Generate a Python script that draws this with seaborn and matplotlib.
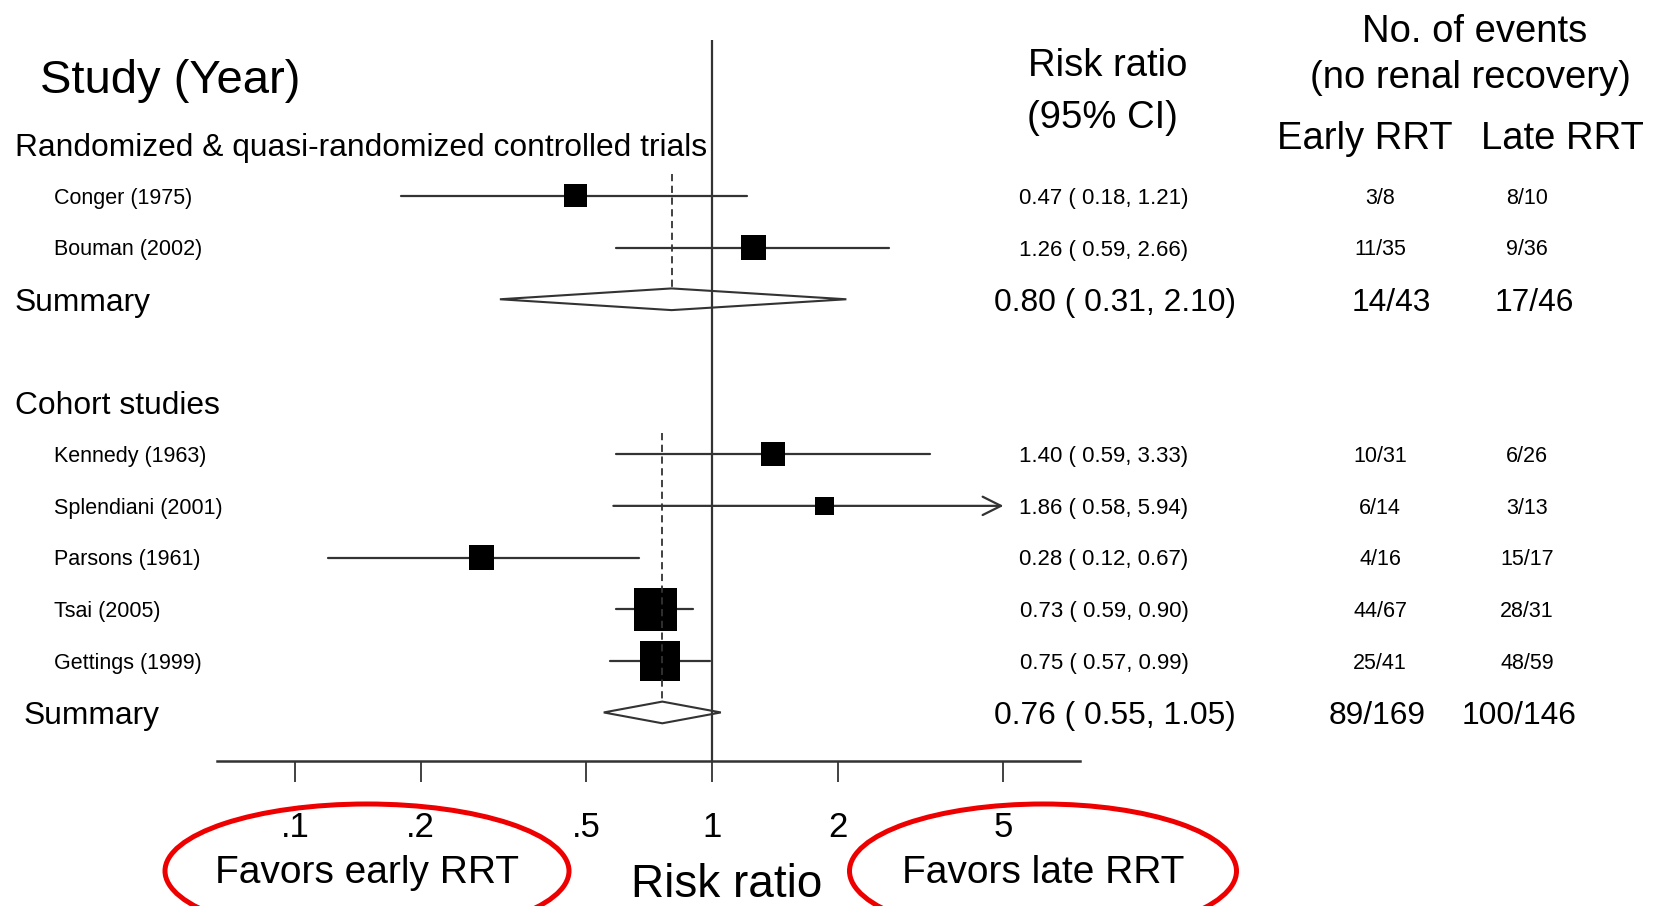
import numpy as np
import pandas as pd
import seaborn as sns
from matplotlib import pyplot as plt
from matplotlib import transforms
from matplotlib.patches import Ellipse

# individual studies, top to bottom
studies = ["Conger (1975)", "Bouman (2002)", "Kennedy (1963)", "Splendiani (2001)",
           "Parsons (1961)", "Tsai (2005)", "Gettings (1999)"]
study_row = [0, 1, 5, 6, 7, 8, 9]
rr = [0.47, 1.26, 1.40, 1.86, 0.28, 0.73, 0.75]
ci_lo = [0.18, 0.59, 0.59, 0.58, 0.12, 0.59, 0.57]
ci_hi = [1.21, 2.66, 3.33, 5.94, 0.67, 0.90, 0.99]
box_weight = [5.3, 6.2, 5.5, 3.5, 5.8, 18.5, 16.0]  # box area
early_events = ["3/8", "11/35", "10/31", "6/14", "4/16", "44/67", "25/41"]
late_events = ["8/10", "9/36", "6/26", "3/13", "15/17", "28/31", "48/59"]

# subgroups
groups = ["Randomized & quasi-randomized controlled trials", "Cohort studies"]
group_row = [-1, 4]
summary_row = [2, 10]
summary_rr = [0.80, 0.76]
summary_lo = [0.31, 0.55]
summary_hi = [2.10, 1.05]
summary_early = ["14/43", "89/169"]
summary_late = ["17/46", "100/146"]

tick_values = [0.1, 0.2, 0.5, 1, 2, 5]
tick_labels = [".1", ".2", ".5", "1", "2", "5"]
ci_clip = 5  # CIs drawn past this get an arrow

W, H = 1657, 906
LINE = "#333333"

sns.set_style("white")
plt.rcParams["font.family"] = ["Liberation Sans", "DejaVu Sans"]
plt.rcParams["text.color"] = "black"
plt.rcParams["xtick.labelcolor"] = "black"

fig = plt.figure(figsize=(W / 100, H / 100), dpi=100)
ax = fig.add_axes([217 / W, 1 - 761 / H, (1080 - 217) / W, (761 - 40) / H])
ax.set_xscale("log")

df = pd.DataFrame({"study": studies, "row": study_row, "rr": rr,
                   "lo": ci_lo, "hi": ci_hi, "w": box_weight})

# confidence intervals
for _, s in df.iterrows():
    if s.hi > ci_clip:
        ax.annotate("", xy=(ci_clip, s.row), xytext=(s.lo, s.row),
                    arrowprops=dict(arrowstyle="->,head_length=0.6,head_width=0.3",
                                    color=LINE, lw=1.6, shrinkA=0, shrinkB=0,
                                    mutation_scale=22), zorder=2)
    else:
        ax.plot([s.lo, s.hi], [s.row, s.row], color=LINE, lw=1.6, zorder=2)

# weight boxes
area_per_w = 51.84
sns.scatterplot(data=df, x="rr", y="row", size="w",
                sizes=(area_per_w * min(box_weight), area_per_w * max(box_weight)),
                size_norm=(min(box_weight), max(box_weight)),
                marker="s", color="black", linewidth=0, legend=False, ax=ax, zorder=4)

# summary diamonds + dashed lines
h = 0.21
for i, r in enumerate(summary_row):
    xs = [summary_lo[i], summary_rr[i], summary_hi[i], summary_rr[i]]
    ys = [r, r - h, r, r + h]
    ax.fill(xs, ys, facecolor="white", edgecolor=LINE, lw=1.5, zorder=2)
    first = min(x for x in study_row if x > group_row[i])
    ax.plot([summary_rr[i], summary_rr[i]], [first - 0.42, r - h],
            color=LINE, lw=1.3, ls=(0, (4, 2.5)), zorder=5)

ax.axvline(1, color=LINE, lw=1.6, zorder=3)

ax.set_xlim(0.065, 7.63)
ax.set_ylim(10.94, -3.02)
ax.set_xticks(tick_values)
ax.set_xticklabels(tick_labels)
ax.minorticks_off()
ax.tick_params(axis="x", direction="out", length=15, width=1.3, color=LINE,
               labelsize=25, pad=21, bottom=True, labelcolor="black")
ax.set_yticks([])
ax.set_xlabel("")
ax.set_ylabel("")
sns.despine(ax=ax, left=True, top=True, right=True)
ax.spines["bottom"].set_color(LINE)
ax.spines["bottom"].set_linewidth(1.8)

# text placed on rows, baseline shifted so the caps are centred on the row
row_tr = transforms.blended_transform_factory(fig.transFigure, ax.transData)


def row_text(x_px, r, s, size, ha="center"):
    tr = transforms.offset_copy(row_tr, fig=fig, y=-0.358 * size, units="points")
    ax.text(x_px / W, r, s, transform=tr, fontsize=size, ha=ha, va="baseline",
            clip_on=False, color="black")


# headers
row_text(40, -2.32, "Study (Year)", 34, ha="left")
row_text(1108, -2.58, "Risk ratio", 27.5)
row_text(1102, -1.59, "(95% CI)", 27.5)
row_text(1475, -3.25, "No. of events", 27.5)
row_text(1470, -2.35, "(no renal recovery)", 27.5)
row_text(1365, -1.18, "Early RRT", 27.5)
row_text(1562, -1.18, "Late RRT", 27.5)

for g, r in zip(groups, group_row):
    row_text(15, r, g, 22.9, ha="left")

for i, r in enumerate(study_row):
    row_text(54, r, studies[i], 15.5, ha="left")
    row_text(1104, r, f"{rr[i]:.2f} ( {ci_lo[i]:.2f}, {ci_hi[i]:.2f})", 16)
    row_text(1380, r, early_events[i], 15.5)
    row_text(1527, r, late_events[i], 15.5)

for i, r in enumerate(summary_row):
    row_text(15 + 9 * i, r, "Summary", 22.9, ha="left")
    row_text(1115, r,
             f"{summary_rr[i]:.2f} ( {summary_lo[i]:.2f}, {summary_hi[i]:.2f})", 22.9)
    row_text(1391 - 14 * i, r, summary_early[i], 22.9)
    row_text(1534 - 15 * i, r, summary_late[i], 22.9)

# bottom labels with the red rings drawn round the two "Favors" notes
fig.text(727 / W, 1 - 897 / H, "Risk ratio", fontsize=33, ha="center", va="baseline")
for x_px, s, ring_w in [(367, "Favors early RRT", 4.04), (1043, "Favors late RRT", 3.87)]:
    fig.text(x_px / W, 1 - 883 / H, s, fontsize=28, ha="center", va="baseline")
    fig.add_artist(Ellipse((x_px / 100, (H - 871) / 100), ring_w, 1.34,
                           transform=fig.dpi_scale_trans, fill=False,
                           edgecolor="#ee0000", lw=3.6, clip_on=False))

fig.savefig("out.png", dpi=100)
